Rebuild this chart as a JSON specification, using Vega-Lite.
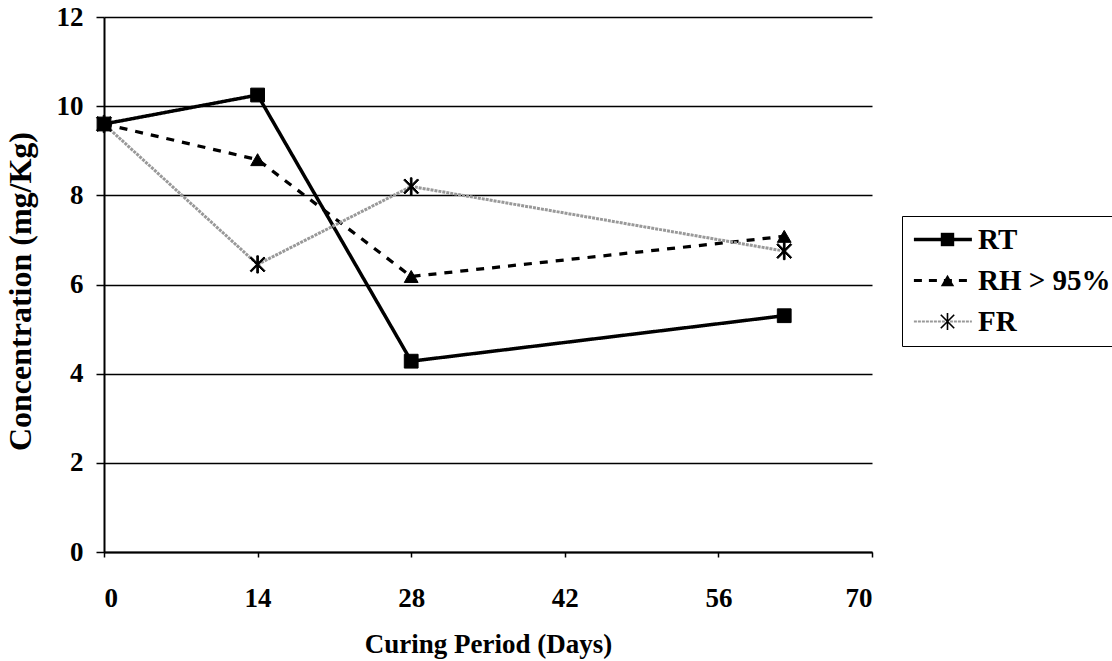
{
  "$schema": "https://vega.github.io/schema/vega-lite/v6.json",
  "width": 768,
  "height": 535,
  "autosize": {"type": "none"},
  "padding": {"left": 104, "top": 17, "right": 240, "bottom": 109},
  "background": "white",
  "config": {
    "view": {"stroke": null},
    "font": "Liberation Serif",
    "axis": {
      "labelFont": "Liberation Serif",
      "labelFontWeight": "bold",
      "labelColor": "black",
      "titleFont": "Liberation Serif",
      "titleFontWeight": "bold",
      "titleColor": "black",
      "domainColor": "black",
      "domainWidth": 2,
      "tickColor": "black",
      "tickWidth": 1.5
    },
    "legend": {
      "labelFont": "Liberation Serif",
      "labelFontWeight": "bold",
      "labelColor": "black"
    }
  },
  "data": {
    "values": [
      {"day": 0, "series": "RT", "value": 9.6},
      {"day": 14, "series": "RT", "value": 10.25},
      {"day": 28, "series": "RT", "value": 4.28},
      {"day": 62, "series": "RT", "value": 5.3},
      {"day": 0, "series": "RH > 95%", "value": 9.6},
      {"day": 14, "series": "RH > 95%", "value": 8.8},
      {"day": 28, "series": "RH > 95%", "value": 6.18},
      {"day": 62, "series": "RH > 95%", "value": 7.08},
      {"day": 0, "series": "FR", "value": 9.6},
      {"day": 14, "series": "FR", "value": 6.45},
      {"day": 28, "series": "FR", "value": 8.2},
      {"day": 62, "series": "FR", "value": 6.75}
    ]
  },
  "encoding": {
    "x": {
      "field": "day",
      "type": "quantitative",
      "scale": {"domain": [0, 70], "nice": false},
      "axis": {
        "values": [0, 14, 28, 42, 56, 70],
        "grid": false,
        "tickSize": 5,
        "labelFontSize": 27,
        "labelPadding": 28,
        "title": "Curing Period (Days)",
        "titleFontSize": 27,
        "titleBaseline": "alphabetic",
        "titleY": 100
      }
    },
    "y": {
      "field": "value",
      "type": "quantitative",
      "scale": {"domain": [0, 12], "nice": false},
      "axis": {
        "values": [0, 2, 4, 6, 8, 10, 12],
        "grid": true,
        "gridColor": "black",
        "gridWidth": 1.5,
        "gridOpacity": 1,
        "tickSize": 8,
        "labelFontSize": 27,
        "labelPadding": 13,
        "title": "Concentration (mg/Kg)",
        "titleFontSize": 32,
        "titleAngle": -90,
        "titleAlign": "center",
        "titleBaseline": "middle",
        "titleX": -84,
        "titleY": 274
      }
    }
  },
  "layer": [
    {
      "mark": {"type": "line"},
      "encoding": {
        "color": {
          "field": "series",
          "type": "nominal",
          "sort": ["RT", "RH > 95%", "FR"],
          "scale": {"range": ["#000000", "#000000", "#999999"]},
          "legend": {
            "orient": "none",
            "legendX": 798,
            "legendY": 199,
            "title": null,
            "padding": 9,
            "strokeColor": "black",
            "fillColor": "white",
            "symbolType": "M-1,0H4",
            "symbolSize": 538,
            "labelFontSize": 29,
            "labelOffset": 38,
            "rowPadding": 11,
            "encode": {
              "symbols": {
                "update": {
                  "strokeDash": {"signal": "datum.value === 'RH > 95%' ? [8, 7] : datum.value === 'FR' ? [3, 1] : [1, 0]"},
                  "strokeWidth": {"signal": "datum.value === 'RT' ? 3.5 : datum.value === 'RH > 95%' ? 3 : 2"}
                }
              }
            }
          }
        },
        "strokeDash": {
          "field": "series",
          "type": "nominal",
          "sort": ["RT", "RH > 95%", "FR"],
          "scale": {"range": [[1, 0], [8, 8], [3, 1]]},
          "legend": null
        },
        "strokeWidth": {
          "field": "series",
          "type": "ordinal",
          "sort": ["RT", "RH > 95%", "FR"],
          "scale": {"range": [3.5, 3, 2]},
          "legend": null
        }
      }
    },
    {
      "mark": {"type": "point", "filled": true, "color": "black", "stroke": "black", "strokeWidth": 1, "opacity": 1, "size": 190},
      "encoding": {
        "shape": {
          "field": "series",
          "type": "nominal",
          "scale": {
            "domain": ["RT", "RH > 95%", "FR"],
            "range": [
              "square",
              "triangle-up",
              "M-0.12,-1.25H0.12V1.25H-0.12Z M-1.085,-0.915L-0.915,-1.085L1.085,0.915L0.915,1.085Z M-0.915,1.085L-1.085,0.915L0.915,-1.085L1.085,-0.915Z"
            ]
          },
          "legend": {
            "orient": "none",
            "legendX": 798,
            "legendY": 199,
            "title": null,
            "padding": 9,
            "symbolSize": 180,
            "symbolOffset": 22,
            "symbolFillColor": "black",
            "symbolStrokeColor": "black",
            "symbolStrokeWidth": 1,
            "labelFontSize": 29,
            "labelExpr": "'\u00a0'",
            "rowPadding": 11
          }
        }
      }
    }
  ]
}
